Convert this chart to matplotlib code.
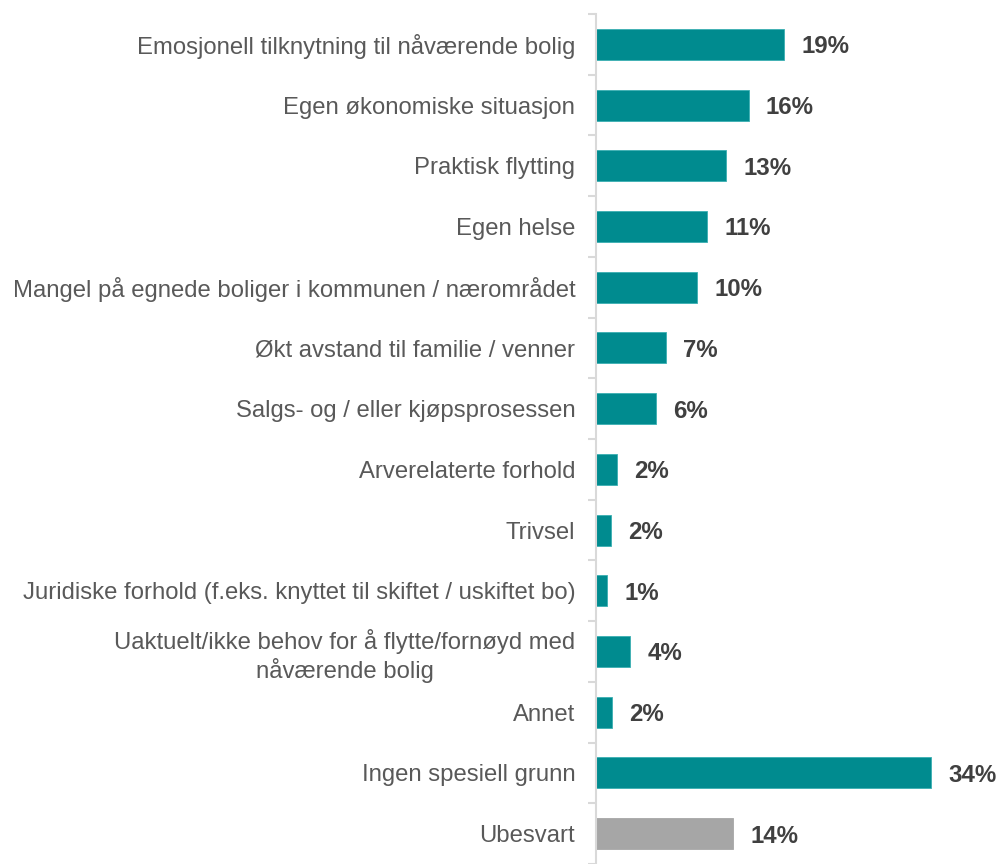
import matplotlib.pyplot as plt
import numpy as np

categories = [
    "Emosjonell tilknytning til nåværende bolig",
    "Egen økonomiske situasjon",
    "Praktisk flytting",
    "Egen helse",
    "Mangel på egnede boliger i kommunen / nærområdet",
    "Økt avstand til familie / venner",
    "Salgs- og / eller kjøpsprosessen",
    "Arverelaterte forhold",
    "Trivsel",
    "Juridiske forhold (f.eks. knyttet til skiftet / uskiftet bo)",
    "Uaktuelt/ikke behov for å flytte/fornøyd med\nnåværende bolig",
    "Annet",
    "Ingen spesiell grunn",
    "Ubesvart",
]
values = [19.1, 15.5, 13.2, 11.3, 10.3, 7.1, 6.05, 2.1, 1.5, 1.1, 3.5, 1.6, 34.0, 13.9]
labels = ["19%", "16%", "13%", "11%", "10%", "7%", "6%", "2%", "2%", "1%", "4%", "2%", "34%", "14%"]

TEAL = "#008B8F"
GREY = "#A6A6A6"
colors = [TEAL] * 13 + [GREY]

plt.rcParams['font.family'] = ['Liberation Sans', 'DejaVu Sans']

fig = plt.figure(figsize=(9.98, 8.64), dpi=100)
ax = fig.add_axes([596 / 998, 0.0, 402 / 998, 1 - 14 / 864])

y = np.arange(len(categories))
ax.barh(y, values, height=0.51, color=colors, edgecolor=[c if c == GREY else "#3AAFB2" for c in colors],
        linewidth=0.6)

for yi, v, lab in zip(y, values, labels):
    ax.text(v + 1.75, yi + 0.04, lab, va="center", ha="left", fontsize=17.3,
            fontweight="bold", color="#404040")

ax.set_xlim(0, 402 / 9.85)
ax.set_ylim(len(categories) - 0.5, -0.5)
ax.set_yticks(y)
ax.set_yticklabels(categories, fontsize=17.2, color="#595959", ha="right")
ax.tick_params(axis="y", which="major", length=0, pad=15)
ax.set_yticks(np.arange(-0.5, len(categories), 1.0), minor=True)
ax.tick_params(axis="y", which="minor", length=6, width=1.5, color="#D9D9D9")
ax.set_xticks([])

for s in ["top", "right", "bottom"]:
    ax.spines[s].set_visible(False)
ax.spines["left"].set_color("#D9D9D9")
ax.spines["left"].set_linewidth(1.5)

for t in ax.get_yticklabels():
    t.set_multialignment("center")

fig.savefig("out.png", dpi=100)
